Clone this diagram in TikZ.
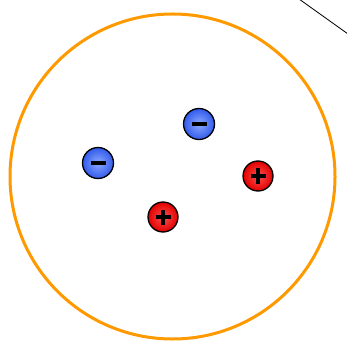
\documentclass[tikz,border=0pt]{standalone}
\begin{document}
\begin{tikzpicture}[x=1pt,y=-1pt,
  charge/.style={circle,draw=black,line width=1.3pt,minimum size=31pt,inner sep=0pt,shading=radial},
  negcharge/.style={charge,inner color={rgb,255:red,140;green,170;blue,255},outer color={rgb,255:red,50;green,90;blue,235}},
  poscharge/.style={charge,inner color={rgb,255:red,255;green,80;blue,80},outer color={rgb,255:red,225;green,0;blue,0},minimum size=30pt},
  signbar/.style={line width=3.8pt,black}]
\useasboundingbox (0,0) rectangle (347,347);
\node[circle,draw={rgb,255:red,255;green,153;blue,0},line width=3pt,minimum size=325pt,inner sep=0pt] (c) at (172.5,176.5) {};
\coordinate (l1) at (299,-1);
\coordinate (l2) at (348,34);
\draw[line width=0.8pt] (l1) -- (l2);
\node[negcharge] (n1) at (199,124) {};
\node[negcharge] (n2) at (98,163) {};
\node[poscharge] (p1) at (258,176) {};
\node[poscharge] (p2) at (163,217) {};
\foreach \n in {n1,n2,p1,p2}{\draw[signbar] ([xshift=-7.5pt]\n.center) -- ([xshift=7.5pt]\n.center);}
\foreach \n in {p1,p2}{\draw[signbar] ([yshift=-7.5pt]\n.center) -- ([yshift=7.5pt]\n.center);}
\end{tikzpicture}
\end{document}
